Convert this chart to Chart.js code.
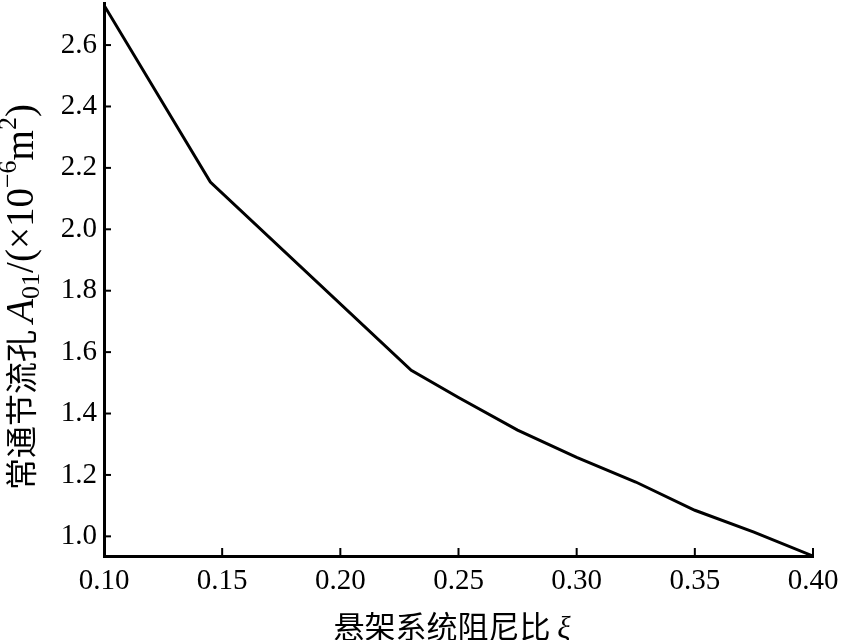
<!DOCTYPE html>
<html>
<head>
<meta charset="utf-8">
<script src="https://cdn.jsdelivr.net/npm/chart.js"></script>
<style>
  html, body { margin: 0; padding: 0; background: #fff; }
</style>
</head>
<body>
<canvas id="chartLine" width="842" height="640"></canvas>
<script>
// damping ratio of the suspension vs. required constant-open orifice area
const dampingRatio = [0.10, 0.145, 0.23, 0.25, 0.275, 0.30, 0.325, 0.35, 0.375, 0.40];
const orificeArea = [2.73, 2.154, 1.541, 1.452, 1.346, 1.257, 1.177, 1.085, 1.014, 0.936];
const xTickValues = [0.10, 0.15, 0.20, 0.25, 0.30, 0.35, 0.40];
const yTickValues = [1.0, 1.2, 1.4, 1.6, 1.8, 2.0, 2.2, 2.4, 2.6];

const serif = "'Liberation Serif', 'DejaVu Serif', serif";
const cjk = "'Noto Sans CJK SC', sans-serif";

// draws a run of text pieces (different fonts / baseline shifts) centred on 0,0
function drawRich(ctx, parts) {
  let total = 0;
  parts.forEach(p => { ctx.font = p.font; p.w = ctx.measureText(p.text).width; total += p.w; });
  let cx = -total / 2;
  ctx.textBaseline = 'alphabetic';
  ctx.textAlign = 'left';
  parts.forEach(p => {
    ctx.font = p.font;
    ctx.fillText(p.text, cx, 12 + (p.dy || 0));
    cx += p.w;
  });
}

const axisDecor = {
  id: 'axisDecor',
  afterDatasetsDraw(chart) {
    const { ctx, chartArea: a, scales: { x, y } } = chart;
    ctx.save();
    ctx.strokeStyle = '#000';
    ctx.lineWidth = 2;
    // inward tick marks
    x.ticks.forEach((t, i) => {
      const px = x.getPixelForTick(i);
      ctx.beginPath(); ctx.moveTo(px, a.bottom); ctx.lineTo(px, a.bottom - 8); ctx.stroke();
    });
    y.ticks.forEach((t, i) => {
      const py = y.getPixelForTick(i);
      ctx.beginPath(); ctx.moveTo(a.left, py); ctx.lineTo(a.left + 7, py); ctx.stroke();
    });
    ctx.fillStyle = '#000';

    // x title
    ctx.save();
    ctx.translate(a.left + 348, a.bottom + 70);
    drawRich(ctx, [
      { text: '悬架系统阻尼比 ', font: '31px ' + cjk },
      { text: 'ξ', font: 'italic 31px ' + serif }
    ]);
    ctx.restore();

    // y title
    ctx.save();
    ctx.translate(21, 297);
    ctx.rotate(-Math.PI / 2);
    drawRich(ctx, [
      { text: '常通节流孔 ', font: '32px ' + cjk },
      { text: 'A', font: 'italic 39px ' + serif },
      { text: '01', font: '26px ' + serif, dy: 6 },
      { text: '/(×10', font: '39px ' + serif },
      { text: '−6', font: '26px ' + serif, dy: -17 },
      { text: 'm', font: '39px ' + serif },
      { text: '2', font: '26px ' + serif, dy: -17 },
      { text: ')', font: '39px ' + serif }
    ]);
    ctx.restore();
    ctx.restore();
  }
};

const tickFont = { family: serif, size: 29 };

new Chart(document.getElementById('chartLine'), {
  type: 'scatter',
  data: {
    datasets: [{
      data: dampingRatio.map((v, i) => ({ x: v, y: orificeArea[i] })),
      showLine: true,
      borderColor: '#000',
      borderWidth: 3,
      pointRadius: 0,
      tension: 0
    }]
  },
  options: {
    responsive: false,
    animation: false,
    layout: { padding: { left: 0, top: 3, right: 29, bottom: 0 } },
    plugins: { legend: { display: false }, tooltip: { enabled: false } },
    scales: {
      x: {
        type: 'linear',
        min: 0.10,
        max: 0.40,
        afterBuildTicks: s => { s.ticks = xTickValues.map(v => ({ value: v })); },
        afterFit: s => { s.height = 84; s.paddingLeft = 0; s.paddingRight = 0; },
        ticks: {
          callback: v => v.toFixed(2),
          font: tickFont,
          color: '#000',
          padding: 8,
          maxRotation: 0,
          autoSkip: false
        },
        grid: { drawOnChartArea: false, drawTicks: false },
        border: { display: true, color: '#000', width: 3 }
      },
      y: {
        min: 0.936,
        max: 2.737,
        afterBuildTicks: s => { s.ticks = yTickValues.map(v => ({ value: v })); },
        afterFit: s => { s.width = 104; s.paddingTop = 0; s.paddingBottom = 0; },
        ticks: {
          callback: v => v.toFixed(1),
          font: tickFont,
          color: '#000',
          padding: 7,
          autoSkip: false
        },
        grid: { drawOnChartArea: false, drawTicks: false },
        border: { display: true, color: '#000', width: 3 }
      }
    }
  },
  plugins: [axisDecor]
});
</script>
</body>
</html>
